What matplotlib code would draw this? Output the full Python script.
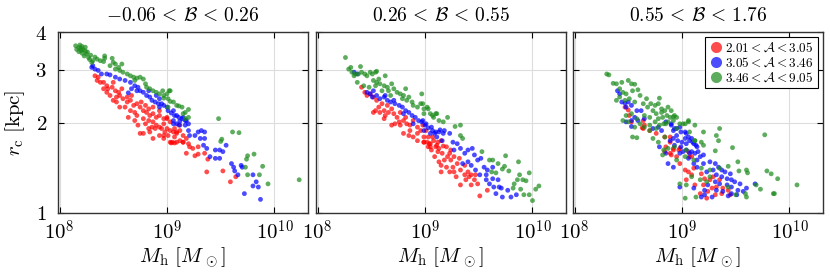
import matplotlib
matplotlib.use("Agg")
import numpy as np
import matplotlib.pyplot as plt
from matplotlib.lines import Line2D
from matplotlib.ticker import NullLocator

# === CONFIG ===
OUTPUT_IMAGE = "out.png"
plt.rcParams['mathtext.fontset'] = 'cm'
plt.rcParams['font.family'] = 'serif'
plt.rcParams['font.serif'] = ['DejaVu Serif']

PANEL_TITLES = [r"$-0.06 \,<\, \mathcal{B} \,<\, 0.26$",
                r"$0.26 \,<\, \mathcal{B} \,<\, 0.55$",
                r"$0.55 \,<\, \mathcal{B} \,<\, 1.76$"]
SERIES_LABELS = [r"$2.01 < \mathcal{A} < 3.05$",
                 r"$3.05 < \mathcal{A} < 3.46$",
                 r"$3.46 < \mathcal{A} < 9.05$"]
SERIES_COLORS = ["#ff0000", "#0000ff", "#1a8a1a"]
X_TICKS = [1e8, 1e9, 1e10]
X_TICKLABELS = [r"$10^{8}$", r"$10^{9}$", r"$10^{10}$"]
Y_TICKS = [1, 2, 3, 4]
Y_TICKLABELS = [r"$1$", r"$2$", r"$3$", r"$4$"]

# === DATI (log10 M_h, r_c in kpc) ===
# pannello 1
p1_red_logm = [8.33, 8.36, 8.35, 8.41, 8.38, 8.44, 8.45, 8.49, 8.50, 8.52, 8.55, 8.58, 8.56, 8.59,
               8.47, 8.50, 8.53, 8.63, 8.66, 8.69, 8.72, 8.75, 8.56, 8.61, 8.66, 8.70, 8.78, 8.81,
               8.84, 8.87, 8.90, 8.93, 8.97, 9.00, 8.78, 8.83, 8.87, 8.90, 8.93, 8.97, 9.00, 9.03,
               9.06, 9.09, 9.12, 9.15, 9.18, 8.73, 8.75, 8.84, 8.93, 8.97, 9.03, 9.09, 8.64, 8.70,
               8.86, 8.95, 8.97, 9.00, 9.09, 9.04, 9.07, 9.15, 9.18, 9.21, 9.24, 9.26, 9.29, 9.29,
               9.35, 9.38, 9.37, 9.52, 9.59, 9.64, 8.78, 8.87, 9.05,
               8.41, 8.44, 8.53, 8.63, 8.67, 8.76, 8.80, 8.83, 8.87, 8.93, 8.72, 8.80, 8.83, 8.89,
               8.98, 9.01, 9.07, 9.12, 9.15, 9.20, 9.07, 9.03, 9.11]
p1_red_rc = [2.86, 2.83, 2.76, 2.72, 2.72, 2.65, 2.59, 2.62, 2.72, 2.55, 2.52, 2.59, 2.46, 2.40,
             2.46, 2.37, 2.34, 2.43, 2.37, 2.28, 2.31, 2.25, 2.25, 2.25, 2.19, 2.16, 2.19, 2.16,
             2.11, 2.14, 2.08, 2.11, 2.06, 2.08, 2.06, 2.03, 2.01, 1.96, 1.93, 1.98, 1.91, 1.88,
             1.86, 1.84, 1.88, 1.81, 1.77, 1.96, 1.84, 1.86, 1.81, 1.77, 1.72, 1.72, 2.08, 2.03,
             1.93, 1.91, 1.81, 2.06, 1.86, 1.71, 1.71, 1.72, 1.58, 1.66, 1.64, 1.55, 1.66, 1.57,
             1.58, 1.51, 1.37, 1.38, 1.27, 1.32, 1.84, 1.77, 1.72,
             2.59, 2.52, 2.43, 2.34, 2.46, 2.34, 2.28, 2.22, 2.25, 2.19, 2.11, 1.98, 1.91, 1.91,
             1.86, 1.81, 1.79, 1.74, 1.72, 1.70, 1.91, 2.01, 1.96]
p1_blue_logm = [8.30, 8.31, 8.33, 8.36, 8.39, 8.44, 8.47, 8.52, 8.56, 8.61, 8.66, 8.70, 8.73, 8.75,
                8.78, 8.81, 8.84, 8.86, 8.89, 8.92, 8.93, 8.97, 9.00, 9.01, 9.04, 9.07, 9.11, 9.14,
                9.17, 9.20, 8.93, 8.90, 8.83, 8.72, 8.67, 8.64, 9.06, 9.09, 9.12, 8.95, 9.06, 9.09,
                9.15, 9.12, 9.18, 9.06, 9.17, 9.20, 9.21, 9.26, 9.29, 9.32, 9.35, 9.31, 9.35, 9.34,
                9.37, 9.45, 9.49, 9.52, 9.40, 9.45, 9.49, 9.55, 9.60, 9.62, 9.69, 9.63, 9.66, 9.70,
                9.80, 9.83, 9.80, 9.85, 9.72, 9.87]
p1_blue_rc = [3.05, 3.09, 3.01, 2.98, 2.90, 2.90, 2.88, 2.83, 2.79, 2.76, 2.72, 2.65, 2.62, 2.55,
              2.52, 2.46, 2.43, 2.37, 2.34, 2.31, 2.25, 2.28, 2.25, 2.19, 2.15, 2.11, 2.08, 2.06,
              2.03, 1.98, 2.40, 2.46, 2.55, 2.55, 2.59, 2.51, 2.03, 1.98, 1.96, 2.31, 2.19, 2.11,
              2.08, 2.02, 2.03, 1.98, 1.96, 1.88, 1.81, 1.81, 1.86, 1.88, 1.86, 1.77, 1.77, 1.68,
              1.64, 1.62, 1.62, 1.60, 1.54, 1.52, 1.52, 1.68, 1.46, 1.42, 1.44, 1.38, 1.34, 1.42,
              1.34, 1.27, 1.23, 1.22, 1.16, 1.11]
p1_green_logm = [8.15, 8.18, 8.20, 8.22, 8.18, 8.21, 8.24, 8.25, 8.23, 8.27, 8.28, 8.31, 8.30, 8.35,
                 8.38, 8.41, 8.42, 8.49, 8.50, 8.47, 8.52, 8.55, 8.58, 8.56, 8.59, 8.63, 8.66, 8.69,
                 8.72, 8.75, 8.78, 8.70, 8.80, 8.81, 8.84, 8.87, 8.90, 8.93, 8.97, 9.00, 9.03, 9.01,
                 9.06, 9.09, 9.14, 9.17, 9.20, 8.96, 9.02, 8.97, 9.03, 9.01, 9.11, 9.15, 9.20, 9.17,
                 9.48, 9.51, 9.50, 9.61, 9.67, 9.75, 9.74, 9.81, 9.89, 9.73, 9.75, 9.86, 9.94, 10.23,
                 8.16, 8.19, 8.21, 8.26, 8.29, 8.33, 8.20, 8.24, 8.42, 8.52]
p1_green_rc = [3.60, 3.55, 3.53, 3.49, 3.44, 3.40, 3.46, 3.38, 3.33, 3.29, 3.24, 3.21, 3.17, 3.25,
               3.21, 3.19, 3.27, 3.27, 3.17, 3.09, 3.01, 3.05, 3.13, 2.98, 2.94, 2.90, 2.86, 2.83,
               2.81, 2.83, 2.79, 2.76, 2.69, 2.62, 2.59, 2.55, 2.52, 2.49, 2.46, 2.49, 2.55, 2.40,
               2.34, 2.28, 2.25, 2.16, 2.08, 2.55, 2.55, 2.41, 2.35, 2.25, 2.27, 2.14, 2.21, 2.06,
               2.06, 1.76, 1.73, 1.86, 1.85, 1.55, 1.51, 1.57, 1.43, 1.42, 1.34, 1.34, 1.25, 1.29,
               3.50, 3.62, 3.58, 3.43, 3.35, 3.30, 3.47, 3.56, 3.33, 3.13]

# pannello 2
p2_red_logm = [8.41, 8.44, 8.46, 8.49, 8.52, 8.55, 8.54, 8.57, 8.60, 8.62, 8.65, 8.66, 8.69, 8.71,
               8.74, 8.77, 8.80, 8.82, 8.83, 8.86, 8.89, 8.93, 8.96, 8.80, 8.85, 8.89, 8.93, 8.99,
               9.02, 9.05, 9.08, 9.11, 8.72, 8.69, 8.77, 9.05, 9.13, 9.17, 8.62, 8.52, 8.98, 9.01,
               8.99, 9.04, 9.06, 9.03, 9.10, 9.12, 9.09, 9.13, 9.16, 9.18, 9.20, 9.21, 9.24, 9.26,
               9.23, 9.27, 9.30, 9.15, 9.29, 9.33, 9.37, 9.40, 9.41, 9.46, 9.49, 9.33, 9.43, 9.51,
               9.58, 9.47, 9.07, 9.15, 9.24,
               9.03, 9.12, 9.20, 9.27, 9.32, 9.37, 9.15, 9.23, 9.43, 9.38, 8.76, 8.86, 8.93, 8.99,
               8.63, 8.58]
p2_red_rc = [2.62, 2.52, 2.46, 2.49, 2.43, 2.37, 2.19, 2.25, 2.31, 2.19, 2.28, 2.16, 2.22, 2.14,
             2.08, 2.16, 2.03, 2.08, 1.98, 1.96, 2.03, 1.93, 1.88, 1.84, 1.81, 1.79, 1.74, 1.79,
             1.72, 1.70, 1.74, 1.68, 1.98, 1.96, 1.96, 1.66, 1.64, 1.67, 2.06, 2.16, 1.96, 1.88,
             1.72, 1.70, 1.62, 1.66, 1.66, 1.60, 1.54, 1.48, 1.58, 1.50, 1.42, 1.54, 1.50, 1.42,
             1.37, 1.37, 1.46, 1.37, 1.32, 1.39, 1.34, 1.37, 1.32, 1.29, 1.25, 1.24, 1.24, 1.14,
             1.19, 1.34, 1.79, 1.74, 1.62,
             1.79, 1.72, 1.66, 1.54, 1.52, 1.44, 1.44, 1.58, 1.34, 1.29, 2.01, 1.88, 1.84, 1.72,
             2.11, 2.16]
p2_blue_logm = [8.34, 8.37, 8.46, 8.49, 8.52, 8.55, 8.58, 8.62, 8.65, 8.68, 8.72, 8.76, 8.79, 8.82,
                8.85, 8.88, 8.91, 8.94, 8.97, 9.00, 9.03, 9.07, 9.10, 9.14, 9.17, 8.51, 8.63, 8.71,
                8.80, 8.89, 8.99, 9.05, 9.11, 9.16, 8.98, 9.01, 9.06, 9.09, 9.13, 9.18, 9.23, 9.26,
                9.30, 9.27, 9.33, 9.37, 9.40, 9.44, 9.46, 9.35, 9.40, 9.43, 9.49, 9.52, 9.55, 9.58,
                9.51, 9.57, 9.63, 9.68, 9.60, 9.64, 9.71, 9.77, 9.66, 9.72, 9.80, 9.85, 9.57, 9.47,
                9.63, 9.69]
p2_blue_rc = [2.94, 2.90, 2.52, 2.49, 2.55, 2.46, 2.40, 2.43, 2.37, 2.34, 2.31, 2.28, 2.25, 2.19,
              2.16, 2.11, 2.08, 2.03, 2.01, 1.96, 1.92, 1.88, 1.86, 1.89, 1.84, 2.43, 2.46, 2.37,
              2.14, 1.98, 1.88, 1.84, 1.79, 1.74, 2.03, 1.98, 1.93, 1.84, 1.86, 1.88, 1.84, 1.72,
              1.70, 1.62, 1.64, 1.58, 1.62, 1.64, 1.56, 1.46, 1.48, 1.44, 1.50, 1.52, 1.42, 1.39,
              1.34, 1.34, 1.30, 1.29, 1.25, 1.22, 1.21, 1.19, 1.16, 1.13, 1.13, 1.15, 1.29, 1.39,
              1.42, 1.22]
p2_green_logm = [8.26, 8.29, 8.31, 8.32, 8.34, 8.35, 8.38, 8.40, 8.41, 8.44, 8.46, 8.49, 8.51, 8.54,
                 8.55, 8.52, 8.55, 8.57, 8.58, 8.62, 8.63, 8.65, 8.66, 8.69, 8.71, 8.74, 8.77, 8.79,
                 8.82, 8.80, 8.83, 8.85, 8.88, 8.89, 8.93, 8.96, 8.97, 8.99, 9.02, 9.05, 9.08, 9.10,
                 9.13, 9.17, 8.37, 8.43, 8.48, 8.54, 8.60, 8.68, 8.98, 9.03, 9.07, 9.11, 9.21, 8.99,
                 9.28, 9.33, 9.33, 9.35, 9.53, 9.60, 9.63, 9.68, 9.75, 9.74, 9.72, 9.78, 9.62, 9.87,
                 9.66, 9.88, 9.86, 9.91, 9.94, 9.97, 9.83, 9.89, 9.97, 10.03, 10.06, 10.00, 9.92, 9.82]
p2_green_rc = [3.29, 3.01, 3.05, 2.94, 2.86, 2.90, 2.90, 3.07, 2.94, 2.90, 2.86, 2.94, 2.90, 2.94,
               2.96, 2.76, 2.72, 2.79, 2.69, 2.65, 2.86, 2.62, 2.55, 2.69, 2.59, 2.52, 2.49, 2.40,
               2.59, 2.46, 2.37, 2.43, 2.34, 2.28, 2.25, 2.31, 2.49, 2.22, 2.25, 2.14, 2.08, 2.14,
               2.03, 2.01, 2.72, 2.65, 2.62, 2.65, 2.55, 2.46, 2.31, 2.22, 2.11, 2.14, 2.08, 2.14,
               1.94, 1.96, 1.81, 1.77, 1.60, 1.50, 1.50, 1.46, 1.55, 1.43, 1.40, 1.38, 1.37, 1.48,
               1.36, 1.34, 1.29, 1.29, 1.28, 1.36, 1.25, 1.20, 1.15, 1.20, 1.23, 1.10, 1.15, 1.21]

# pannello 3
p3_red_logm = [8.47, 8.50, 8.51, 8.53, 8.64, 8.65, 8.64, 8.70, 8.76, 8.84, 8.89, 8.85, 8.92, 8.90,
               8.95, 8.84, 8.98, 9.06, 9.09, 8.89, 8.89, 8.92, 8.97, 9.07, 9.11, 9.06, 9.09, 9.04,
               9.18, 9.21, 9.26, 9.29, 9.20, 9.28, 9.32, 9.37, 9.38, 9.43, 9.23, 9.31, 9.45, 9.03,
               8.98, 9.17, 9.35, 9.12, 9.24, 8.63]
p3_red_rc = [2.25, 2.20, 2.11, 2.01, 2.03, 1.96, 1.91, 1.88, 1.84, 1.79, 1.72, 1.66, 1.62, 1.56,
             1.54, 1.60, 1.64, 1.60, 1.54, 1.79, 1.58, 1.64, 1.62, 1.54, 1.41, 1.37, 1.34, 1.29,
             1.35, 1.30, 1.29, 1.32, 1.24, 1.21, 1.22, 1.16, 1.21, 1.19, 1.12, 1.15, 1.15, 1.39,
             1.46, 1.16, 1.29, 1.24, 1.18, 1.92]
p3_blue_logm = [8.40, 8.42, 8.44, 8.47, 8.50, 8.48, 8.53, 8.58, 8.62, 8.56, 8.53, 8.59, 8.73, 8.78,
                8.81, 8.85, 8.90, 8.92, 8.95, 8.99, 9.04, 9.03, 9.07, 9.10, 9.13, 8.92, 8.96, 8.89,
                8.93, 8.99, 9.04, 9.09, 8.79, 8.85, 8.98, 8.48, 8.65, 8.90, 8.93, 8.98, 9.03, 9.06,
                9.09, 8.95, 9.00, 9.04, 9.11, 9.14, 9.15, 9.20, 9.17, 9.12, 9.07, 9.01, 9.06, 9.11,
                9.14, 9.20, 9.26, 9.31, 9.34, 9.37, 9.40, 9.45, 9.29, 9.23, 9.32, 9.37, 9.42, 9.46,
                9.49, 9.31, 9.35, 9.42, 9.46, 9.52, 9.57, 9.51, 9.60, 9.68, 9.11, 9.18, 9.24, 9.28,
                9.14, 8.92, 8.87, 8.98, 9.21, 9.32, 9.38, 9.46, 9.54, 8.53, 9.21, 9.43]
p3_blue_rc = [2.55, 2.49, 2.34, 2.32, 2.34, 2.25, 2.28, 2.19, 2.19, 2.08, 2.03, 2.03, 1.91, 1.93,
              1.88, 2.01, 1.96, 1.88, 1.91, 1.86, 1.84, 1.77, 1.74, 1.72, 1.68, 1.77, 1.74, 1.74,
              1.68, 1.66, 1.62, 1.60, 1.66, 1.58, 1.58, 2.01, 2.06, 1.98, 1.91, 1.93, 1.86, 1.79,
              1.77, 1.81, 1.72, 1.70, 1.70, 1.66, 1.60, 1.56, 1.54, 1.58, 1.58, 1.60, 1.52, 1.46,
              1.50, 1.46, 1.48, 1.46, 1.42, 1.39, 1.37, 1.35, 1.39, 1.37, 1.34, 1.32, 1.30, 1.29,
              1.27, 1.27, 1.25, 1.24, 1.22, 1.19, 1.18, 1.15, 1.21, 1.25, 1.21, 1.13, 1.24, 1.13,
              1.42, 1.42, 1.46, 1.22, 1.19, 1.19, 1.18, 1.16, 1.25, 1.94, 1.15, 1.14]
p3_green_logm = [8.30, 8.32, 8.36, 8.39, 8.44, 8.50, 8.53, 8.56, 8.42, 8.45, 8.48, 8.54, 8.59, 8.39,
                 8.42, 8.47, 8.51, 8.56, 8.61, 8.64, 8.67, 8.68, 8.71, 8.75, 8.78, 8.79, 8.73, 8.76,
                 8.81, 8.84, 8.87, 8.90, 8.93, 8.89, 8.82, 8.78, 8.75, 8.70, 8.65, 8.61, 8.58, 8.53,
                 8.48, 8.45, 8.50, 8.56, 8.70, 8.76, 8.85, 8.92, 8.98, 9.03, 9.06, 8.54, 8.58, 8.73,
                 8.78, 8.87, 8.82, 8.65, 8.70, 8.79, 8.95, 9.07, 9.12, 8.81, 8.86, 8.92, 8.95, 8.83,
                 8.87, 9.01, 9.06, 9.12, 9.20, 9.35, 9.32, 9.34, 9.12, 9.18, 9.20, 9.31, 9.47, 9.77,
                 8.83, 8.95, 9.03, 9.11, 9.18, 9.26, 9.35, 9.43, 9.52, 9.60, 9.53, 9.61, 9.79, 9.83,
                 9.89, 10.07, 9.69, 9.73, 9.85, 9.86, 9.59, 9.60, 9.50, 9.43, 9.04, 9.09, 9.17, 9.23,
                 8.98, 9.03, 9.13, 9.26, 8.93, 8.84, 9.04]
p3_green_rc = [2.90, 2.88, 2.70, 2.69, 2.72, 2.76, 2.69, 2.68, 2.59, 2.52, 2.49, 2.55, 2.57, 2.37,
               2.43, 2.37, 2.40, 2.34, 2.46, 2.31, 2.40, 2.25, 2.31, 2.28, 2.31, 2.41, 2.19, 2.14,
               2.22, 2.19, 2.25, 2.19, 2.11, 2.08, 2.08, 2.06, 2.01, 1.96, 1.93, 1.98, 2.06, 2.14,
               2.11, 2.03, 2.01, 1.93, 1.88, 1.91, 1.98, 2.03, 1.98, 1.98, 2.03, 1.79, 1.78, 1.77,
               1.72, 1.64, 1.56, 2.11, 2.08, 1.96, 1.91, 1.86, 1.74, 2.16, 2.11, 2.09, 2.08, 1.98,
               2.01, 1.98, 2.01, 1.96, 1.86, 1.91, 1.81, 1.74, 1.74, 1.72, 1.68, 1.61, 1.65, 1.82,
               1.62, 1.50, 1.54, 1.50, 1.41, 1.39, 1.41, 1.43, 1.48, 1.39, 1.38, 1.36, 1.38, 1.35,
               1.30, 1.24, 1.24, 1.20, 1.16, 1.16, 1.16, 1.13, 1.15, 1.22, 1.24, 1.32, 1.29, 1.27,
               1.25, 1.12, 1.13, 1.32, 1.66, 1.79, 1.62]

PANELS = [
    [(p1_red_logm, p1_red_rc), (p1_blue_logm, p1_blue_rc), (p1_green_logm, p1_green_rc)],
    [(p2_red_logm, p2_red_rc), (p2_blue_logm, p2_blue_rc), (p2_green_logm, p2_green_rc)],
    [(p3_red_logm, p3_red_rc), (p3_blue_logm, p3_blue_rc), (p3_green_logm, p3_green_rc)],
]

# === FIGURA ===
fig = plt.figure(figsize=(8.3, 2.77), dpi=100)
W, H = 830.0, 277.0
lefts = [58, 316, 573]
axes = []
for i, left in enumerate(lefts):
    ax = fig.add_axes([left / W, 1 - 213 / H, 250 / W, 181 / H])
    axes.append(ax)
    for (logm, rc), col in zip(PANELS[i], SERIES_COLORS):
        ax.scatter(10 ** np.array(logm), rc, s=12, color=col, alpha=0.7,
                   edgecolors='none', zorder=3)
    ax.set_xscale('log')
    ax.set_yscale('log')
    ax.set_xlim(10 ** 7.986, 10 ** 10.312)
    ax.set_ylim(1, 4)
    ax.set_xticks(X_TICKS)
    ax.set_xticklabels(X_TICKLABELS)
    ax.set_yticks(Y_TICKS)
    ax.set_yticklabels(Y_TICKLABELS if i == 0 else [])
    ax.xaxis.set_minor_locator(NullLocator())
    ax.yaxis.set_minor_locator(NullLocator())
    ax.tick_params(direction='in', top=True, right=True, length=4, width=0.8,
                   labelsize=15)
    ax.tick_params(axis='x', pad=5)
    ax.tick_params(axis='y', pad=8)
    ax.grid(True, color='#dddddd', linewidth=0.8, zorder=0)
    for sp in ax.spines.values():
        sp.set_linewidth(1.0)
        sp.set_color('#333333')
    ax.set_title(PANEL_TITLES[i], fontsize=14, pad=8)
    ax.set_xlabel(r"$M_\mathrm{h}\ [M_{\,\odot}]$", fontsize=15, labelpad=1)

axes[0].set_ylabel(r"$r_\mathrm{c}\ [\mathrm{kpc}]$", fontsize=15, labelpad=6)

handles = [Line2D([], [], marker='o', linestyle='none', color=c, alpha=0.7,
                  markersize=8, markeredgewidth=0) for c in SERIES_COLORS]
leg = axes[2].legend(handles, SERIES_LABELS, loc='upper right', fontsize=9.5,
                     frameon=True, fancybox=False, framealpha=1, edgecolor='black',
                     handletextpad=0.2, labelspacing=0.1, borderpad=0.3,
                     handlelength=1.0, borderaxespad=0.4)
leg.get_frame().set_linewidth(0.8)

plt.savefig(OUTPUT_IMAGE, dpi=100)
